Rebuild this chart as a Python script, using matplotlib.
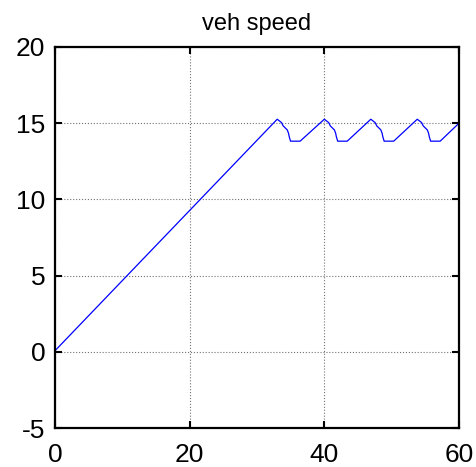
import matplotlib
matplotlib.use("Agg")
import matplotlib.pyplot as plt

plt.rcParams['font.family'] = ['Liberation Sans', 'DejaVu Sans']
plt.rcParams['axes.unicode_minus'] = False

# breakpoints of the vehicle speed trace (time in s, speed)
t_ramp = [0.0, 33.0]
v_ramp = [0.07, 15.26]

# one braking / cruising cycle, relative to each peak
dt_cycle = [0.0, 0.64, 0.89, 1.49, 1.68, 1.78, 1.98, 3.4]
dv_cycle = [0.0, -0.22, -0.44, -0.70, -0.92, -1.14, -1.44, -1.44]
peak_times = [33.0, 40.0, 46.9, 53.8]
t_end = 60.0
v_end = 15.0

x_ticks = [0, 20, 40, 60]
y_ticks = [-5, 0, 5, 10, 15, 20]

t = list(t_ramp)
v = list(v_ramp)
for tp in peak_times:
    if tp != t[-1]:
        t.append(tp)
        v.append(v_ramp[-1])
    for dt, dv in zip(dt_cycle[1:], dv_cycle[1:]):
        t.append(tp + dt)
        v.append(v_ramp[-1] + dv)
t.append(t_end)
v.append(v_end)

fig = plt.figure(figsize=(4.77, 4.67), dpi=100)
ax = fig.add_axes([0.1153, 0.0835, 0.847, 0.8159])

ax.plot(t, v, color=(0, 0, 1), linewidth=0.9)

ax.set_xlim(0, 60)
ax.set_ylim(-5, 20)
ax.set_xticks(x_ticks)
ax.set_yticks(y_ticks)
ax.grid(True, color='0.45', linestyle=':', linewidth=0.8)
ax.tick_params(direction='in', length=5, width=1.5, labelsize=19,
               top=True, right=True)
ax.tick_params(axis='x', pad=11)
ax.tick_params(axis='y', pad=7)
for s in ax.spines.values():
    s.set_linewidth(1.6)

ax.set_title('veh speed', fontsize=17, pad=12)

fig.savefig('out.png', dpi=100)
